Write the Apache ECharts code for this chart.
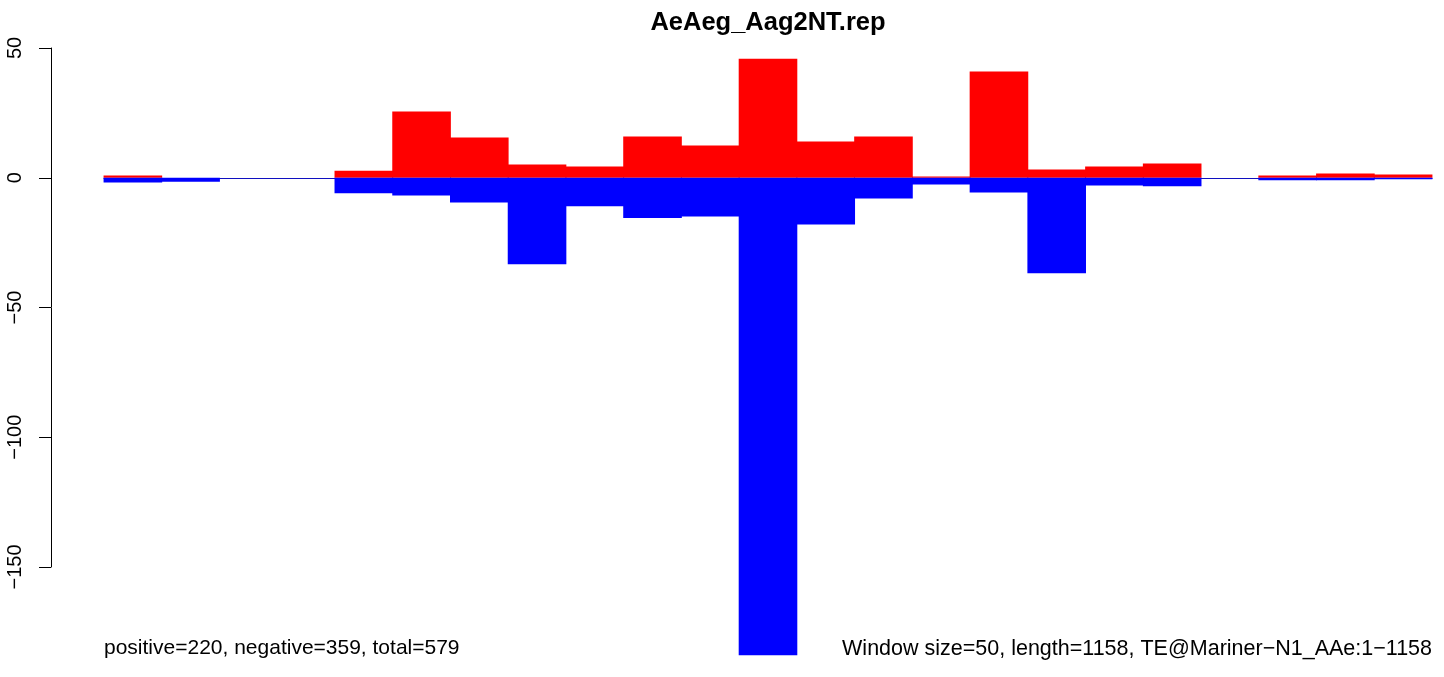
<!DOCTYPE html>
<html>
<head>
<meta charset="utf-8">
<script src="https://cdn.jsdelivr.net/npm/echarts@6/dist/echarts.min.js"></script>
<style>
html,body{margin:0;padding:0;background:#fff;}
#chart{width:1444px;height:677px;}
</style>
</head>
<body>
<div id="chart"></div>
<script>
var titleText = 'AeAeg_Aag2NT.rep';
var leftNote = 'positive=220, negative=359, total=579';
var rightNote = 'Window size=50, length=1158, TE@Mariner\u2212N1_AAe:1\u22121158';
var windowStarts = ['1','51','101','151','201','251','301','351','401','451','501','551','601','651','701','751','801','851','901','951','1001','1051','1101'];
var positiveVals = [0.9, null, null, null, 2.7, 25.5, 15.5, 5.1, 4.3, 15.9, 12.4, 45.9, 14.0, 15.9, 0.5, 40.9, 3.2, 4.3, 5.5, null, 0.9, 1.6, 1.3];
var negativeVals = [-1.8, -1.5, null, null, -6.0, -6.8, -9.5, -33.3, -11.0, -15.5, -14.9, -184, -18.0, -8.0, -2.6, -5.7, -36.8, -3.0, -3.3, null, -1.0, -1.0, -0.6];
var yTicks = [50, 0, -50, -100, -150];

var FONT = '"Liberation Sans", Arial, Helvetica, sans-serif';
var chart = echarts.init(document.getElementById('chart'), null, {renderer: 'canvas'});
chart.setOption({
  animation: false,
  backgroundColor: '#ffffff',
  title: [
    {text: titleText, left: 768, top: 10, padding: 0, textAlign: 'center',
     textStyle: {fontFamily: FONT, fontWeight: 'bold', fontSize: 25.5, color: '#000'}},
    {text: leftNote, left: 104, top: 638, padding: 0,
     textStyle: {fontFamily: FONT, fontWeight: 'normal', fontSize: 21, color: '#000'}},
    {text: rightNote, right: 12, top: 638, padding: 0,
     textStyle: {fontFamily: FONT, fontWeight: 'normal', fontSize: 21.5, color: '#000'}}
  ],
  grid: {left: 104, right: 12, top: 48, bottom: 110, containLabel: false},
  xAxis: {
    type: 'category',
    data: windowStarts,
    boundaryGap: true,
    axisLine: {show: true, onZero: true, lineStyle: {color: '#1010c0', width: 1}},
    axisTick: {show: false},
    axisLabel: {show: false},
    splitLine: {show: false}
  },
  yAxis: {
    type: 'value',
    min: -150, max: 50, interval: 50,
    offset: 53,
    axisLine: {show: true, lineStyle: {color: '#000', width: 1}},
    axisTick: {show: true, inside: false, length: 12, lineStyle: {color: '#000', width: 1}},
    axisLabel: {
      show: true, rotate: 90, margin: 26,
      fontFamily: FONT, fontSize: 20, color: '#000',
      formatter: function (v) {
        return yTicks.indexOf(v) >= 0 ? String(v).replace('-', '\u2212') : '';
      }
    },
    splitLine: {show: false}
  },
  series: [
    {
      name: 'positive', type: 'bar', data: positiveVals,
      barWidth: '101.5%', barGap: '-100%', barCategoryGap: '0%',
      clip: false,
      itemStyle: {color: '#ff0000'},
      emphasis: {disabled: true}
    },
    {
      name: 'negative', type: 'bar', data: negativeVals,
      barWidth: '101.5%', barGap: '-100%', barCategoryGap: '0%',
      clip: false,
      itemStyle: {color: '#0000ff'},
      emphasis: {disabled: true}
    }
  ]
});
</script>
</body>
</html>
